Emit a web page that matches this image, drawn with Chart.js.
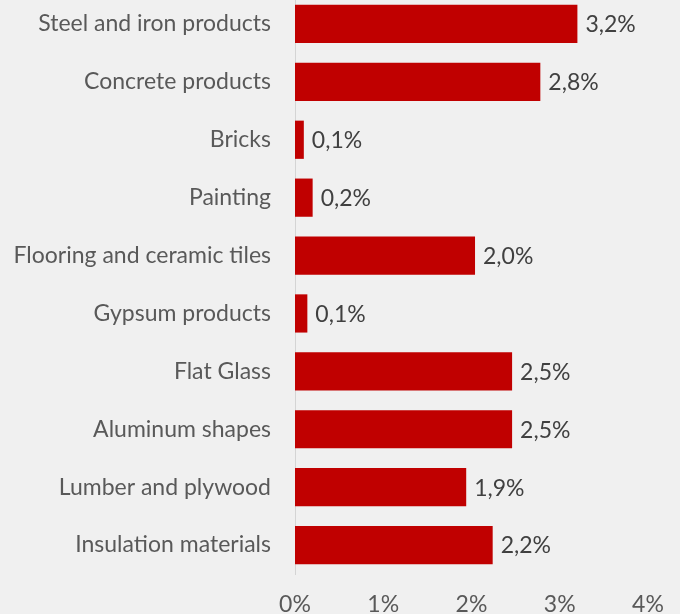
<!DOCTYPE html>
<html>
<head>
<meta charset="utf-8">
<script src="https://cdn.jsdelivr.net/npm/chart.js@4/dist/chart.umd.min.js"></script>
<style>
  html, body { margin: 0; padding: 0; background: #f0f0f0; overflow: hidden; }
  #wrap { position: absolute; left: 0; top: -5px; width: 680px; height: 619px; }
</style>
</head>
<body>
<div id="wrap"><canvas id="barChart"></canvas></div>
<script>
// Data
const categories = ['Steel and iron products', 'Concrete products', 'Bricks', 'Painting',
  'Flooring and ceramic tiles', 'Gypsum products', 'Flat Glass', 'Aluminum shapes',
  'Lumber and plywood', 'Insulation materials'];
const shares = [3.2, 2.8, 0.1, 0.2, 2.0, 0.1, 2.5, 2.5, 1.9, 2.2];
const barLengths = [3.2, 2.78, 0.1, 0.2, 2.04, 0.14, 2.46, 2.46, 1.94, 2.24];
const xTicks = [0, 1, 2, 3, 4];

const FONT = 'Lato, "Open Sans", sans-serif';
const FS = 23;

// value labels at bar ends
const valueLabels = {
  id: 'valueLabels',
  afterDatasetsDraw(chart) {
    const ctx = chart.ctx;
    const meta = chart.getDatasetMeta(0);
    ctx.save();
    ctx.font = FS + 'px ' + FONT;
    ctx.fillStyle = '#404040';
    ctx.textAlign = 'left';
    ctx.textBaseline = 'middle';
    meta.data.forEach((bar, i) => {
      ctx.fillText(shares[i].toFixed(1).replace('.', ',') + '%', bar.x + 8, bar.y + 1);
    });
    ctx.restore();
  }
};

new Chart(document.getElementById('barChart'), {
  type: 'bar',
  data: {
    labels: categories,
    datasets: [{ data: barLengths, backgroundColor: '#c00000', borderWidth: 0,
      barPercentage: 0.66, categoryPercentage: 1 }]
  },
  plugins: [valueLabels],
  options: {
    indexAxis: 'y',
    responsive: true,
    maintainAspectRatio: false,
    animation: false,
    layout: { padding: { left: 0, right: 32, top: 0, bottom: 0 } },
    plugins: { legend: { display: false }, tooltip: { enabled: false } },
    scales: {
      x: {
        min: 0, max: 4,
        afterBuildTicks: s => { s.ticks = xTicks.map(v => ({ value: v })); },
        afterFit: s => { s.height = 40; s.paddingLeft = 0; s.paddingRight = 0; },
        grid: { display: false },
        border: { display: false },
        ticks: { callback: v => v + '%', color: '#595959', font: { family: FONT, size: FS }, padding: 9 }
      },
      y: {
        grid: { display: false, drawTicks: false },
        border: { display: true, color: '#d4d4d4', width: 1 },
        afterFit: s => { s.width = 295; s.paddingTop = 0; s.paddingBottom = 0; },
        ticks: { color: '#595959', font: { family: FONT, size: FS }, padding: 24 }
      }
    }
  }
});
</script>
</body>
</html>
